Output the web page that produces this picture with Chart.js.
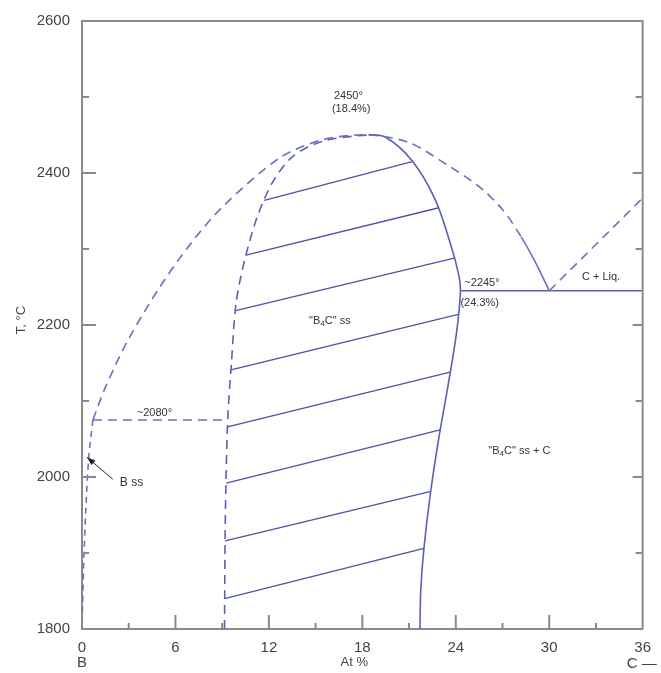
<!DOCTYPE html>
<html>
<head>
<meta charset="utf-8">
<script src="https://cdn.jsdelivr.net/npm/chart.js@4.4.0/dist/chart.umd.min.js"></script>
<style>
body { margin: 0; background: #fff; }
canvas { display: block; }
</style>
</head>
<body>
<canvas id="phase" width="661" height="673"></canvas>
<script>
const xTicks = [0, 6, 12, 18, 24, 30, 36]
const yTicks = [1800, 2000, 2200, 2400, 2600]

// liquidus: B side -> maximum -> eutectic at 30 %
const liqX = [0.7, 1.5, 3.0, 5.0, 6.9, 9.0, 12.7, 15.5, 18.4, 21.0, 23.5, 25.5, 27.0, 28.2, 29.1, 30.0]
const liqT = [2075, 2118, 2182, 2250, 2305, 2355, 2420, 2444, 2450, 2440, 2410, 2382, 2352, 2316, 2283, 2245]

// "B4C" ss boundary: left (dashed) -> maximum -> right (solid)
const ssX = [9.15, 9.2, 9.35, 9.6, 9.9, 10.5, 11.3, 12.3, 13.6, 15.5, 18.4, 19.5, 21.2, 22.7, 23.7, 24.2, 24.3, 24.05, 23.5, 22.9, 22.35, 21.95, 21.75, 21.7]
const ssT = [1800, 1942, 2073, 2151, 2230, 2290, 2345, 2390, 2423, 2442, 2450, 2447, 2416, 2364, 2304, 2265, 2245, 2190, 2120, 2050, 1975, 1905, 1850, 1800]

// B ss solvus
const bssX = [0.7, 0.45, 0.25, 0.1, 0]
const bssT = [2075, 2030, 1960, 1880, 1800]

// ~2080 horizontal
const perX = [0.7, 9.35]
const perT = [2075, 2075]

// eutectic line and graphite liquidus
const eutX = [24.3, 36]
const eutT = [2245, 2245]
const cLiqX = [30, 36]
const cLiqT = [2245, 2367]

// tie lines
const tieLeftX = [11.7, 10.53, 9.86, 9.57, 9.34, 9.26, 9.19, 9.16]
const tieLeftT = [2364, 2292, 2219, 2141, 2066, 1992, 1916, 1840]
const tieRightX = [21.2, 22.85, 23.9, 24.16, 23.64, 23.0, 22.4, 21.95]
const tieRightT = [2415, 2354, 2288, 2214, 2138, 2062, 1981, 1906]

const blue = '#5a5fb8'
const font = "'Liberation Sans', Arial, sans-serif"
const dash = [9, 6]

const pts = (xs, ts) => xs.map((x, i) => ({ x: x, y: ts[i] }))

const line = (data, opts) => Object.assign({
	data: data,
	showLine: true,
	borderColor: blue,
	borderWidth: 1.6,
	pointRadius: 0,
	pointHoverRadius: 0,
	tension: 0
}, opts)

const peakIdx = ssX.indexOf(18.4)
const liqSolidFrom = liqX.indexOf(28.2)

const datasets = [
	line(pts(liqX, liqT), {
		tension: 0.3,
		borderColor: '#6a70c0',
		segment: { borderDash: c => (c.p0DataIndex < liqSolidFrom ? dash : []) }
	}),
	line(pts(ssX, ssT), {
		tension: 0.3,
		segment: { borderDash: c => (c.p0DataIndex < peakIdx ? dash : []) }
	}),
	line(pts(bssX, bssT), { tension: 0.3, borderDash: [6, 5], borderColor: '#6a70c0' }),
	line(pts(perX, perT), { borderDash: dash, borderColor: '#6a70c0' }),
	line(pts(eutX, eutT), {}),
	line(pts(cLiqX, cLiqT), { borderDash: dash, borderColor: '#6a70c0' })
]
tieLeftX.forEach((x, i) => {
	datasets.push(line([{ x: x, y: tieLeftT[i] }, { x: tieRightX[i], y: tieRightT[i] }], { borderColor: '#4d52a8', borderWidth: 1.4 }))
})

// plain text labels, anchored top-left in data units
const notes = [
	{ text: '2450°', x: 16.18, y: 2509 },
	{ text: '(18.4%)', x: 16.05, y: 2491 },
	{ text: '~2245°', x: 24.55, y: 2262 },
	{ text: '(24.3%)', x: 24.3, y: 2236 },
	{ text: 'C + Liq.', x: 32.1, y: 2271 },
	{ text: '~2080°', x: 3.52, y: 2092 },
	{ text: 'B ss', x: 2.43, y: 2000, size: 12 }
]

const frame = {
	id: 'frame',
	afterDraw(chart) {
		const c = chart.ctx
		const a = chart.chartArea
		const sx = chart.scales.x
		const sy = chart.scales.y
		c.save()
		c.strokeStyle = '#8a8a8a'
		c.lineWidth = 2
		c.beginPath()
		c.moveTo(a.left, a.top)
		c.lineTo(a.right, a.top)
		c.lineTo(a.right, a.bottom)
		// inward ticks
		for (let v = 0; v <= 36; v += 3) {
			const px = sx.getPixelForValue(v)
			const len = v % 6 === 0 ? 14 : 6
			c.moveTo(px, a.bottom)
			c.lineTo(px, a.bottom - len)
		}
		for (let v = 1800; v <= 2600; v += 100) {
			const py = sy.getPixelForValue(v)
			const major = v % 200 === 0
			c.moveTo(a.left, py)
			c.lineTo(a.left + (major ? 14 : 7), py)
			c.moveTo(a.right, py)
			c.lineTo(a.right - (major ? 10 : 7), py)
		}
		c.stroke()

		c.fillStyle = '#333'
		c.textBaseline = 'top'
		c.textAlign = 'left'
		notes.forEach(n => {
			c.font = (n.size || 11) + 'px ' + font
			c.fillText(n.text, sx.getPixelForValue(n.x), sy.getPixelForValue(n.y))
		})

		// "B4C" with subscript
		const b4c = (x, y, tail) => {
			let px = sx.getPixelForValue(x)
			const py = sy.getPixelForValue(y)
			c.font = '11px ' + font
			c.fillText('"B', px, py)
			px += c.measureText('"B').width
			c.font = '8px ' + font
			c.fillText('4', px, py + 5)
			px += c.measureText('4').width
			c.font = '11px ' + font
			c.fillText('C"' + tail, px, py)
		}
		b4c(14.58, 2213, ' ss')
		b4c(26.09, 2042, ' ss + C')

		// arrow to B ss
		const tx = sx.getPixelForValue(1.98), ty = sy.getPixelForValue(1997)
		const hx = sx.getPixelForValue(0.32), hy = sy.getPixelForValue(2026)
		c.strokeStyle = '#222'
		c.lineWidth = 1
		c.beginPath()
		c.moveTo(tx, ty)
		c.lineTo(hx, hy)
		c.stroke()
		const ang = Math.atan2(hy - ty, hx - tx)
		c.beginPath()
		c.moveTo(hx, hy)
		c.lineTo(hx - 9 * Math.cos(ang - 0.35), hy - 9 * Math.sin(ang - 0.35))
		c.lineTo(hx - 9 * Math.cos(ang + 0.35), hy - 9 * Math.sin(ang + 0.35))
		c.closePath()
		c.fillStyle = '#222'
		c.fill()

		// axis titles
		c.fillStyle = '#444'
		c.font = '13px ' + font
		c.textAlign = 'center'
		c.fillText('At %', (a.left + a.right) / 2 - 8, 656)
		c.font = '15px ' + font
		c.fillText('B', sx.getPixelForValue(0), 655)
		c.textAlign = 'left'
		c.fillText('C \u2014', a.right - 16, 656)
		c.translate(21, 320)
		c.rotate(-Math.PI / 2)
		c.textAlign = 'center'
		c.textBaseline = 'middle'
		c.font = '13px ' + font
		c.fillText('T, °C', 0, 0)
		c.restore()
	}
}

new Chart(document.getElementById('phase'), {
	type: 'scatter',
	data: { datasets: datasets },
	options: {
		responsive: false,
		animation: false,
		layout: { padding: { top: 13, right: 16, left: 0, bottom: 0 } },
		plugins: {
			legend: { display: false },
			tooltip: { enabled: false }
		},
		scales: {
			x: {
				type: 'linear',
				min: 0,
				max: 36,
				afterBuildTicks: s => { s.ticks = xTicks.map(v => ({ value: v })) },
				afterFit: s => { s.height = 44 },
				grid: { display: false, drawTicks: false },
				border: { display: true, color: '#8a8a8a', width: 2 },
				ticks: { padding: 10, color: '#444', font: { family: font, size: 15 }, maxRotation: 0, callback: v => String(v) }
			},
			y: {
				type: 'linear',
				min: 1800,
				max: 2600,
				afterBuildTicks: s => { s.ticks = yTicks.map(v => ({ value: v })) },
				afterFit: s => { s.width = 82 },
				grid: { display: false, drawTicks: false },
				border: { display: true, color: '#8a8a8a', width: 2 },
				ticks: { padding: 12, color: '#444', font: { family: font, size: 15 }, callback: v => String(v) }
			}
		}
	},
	plugins: [frame]
})
</script>
</body>
</html>
